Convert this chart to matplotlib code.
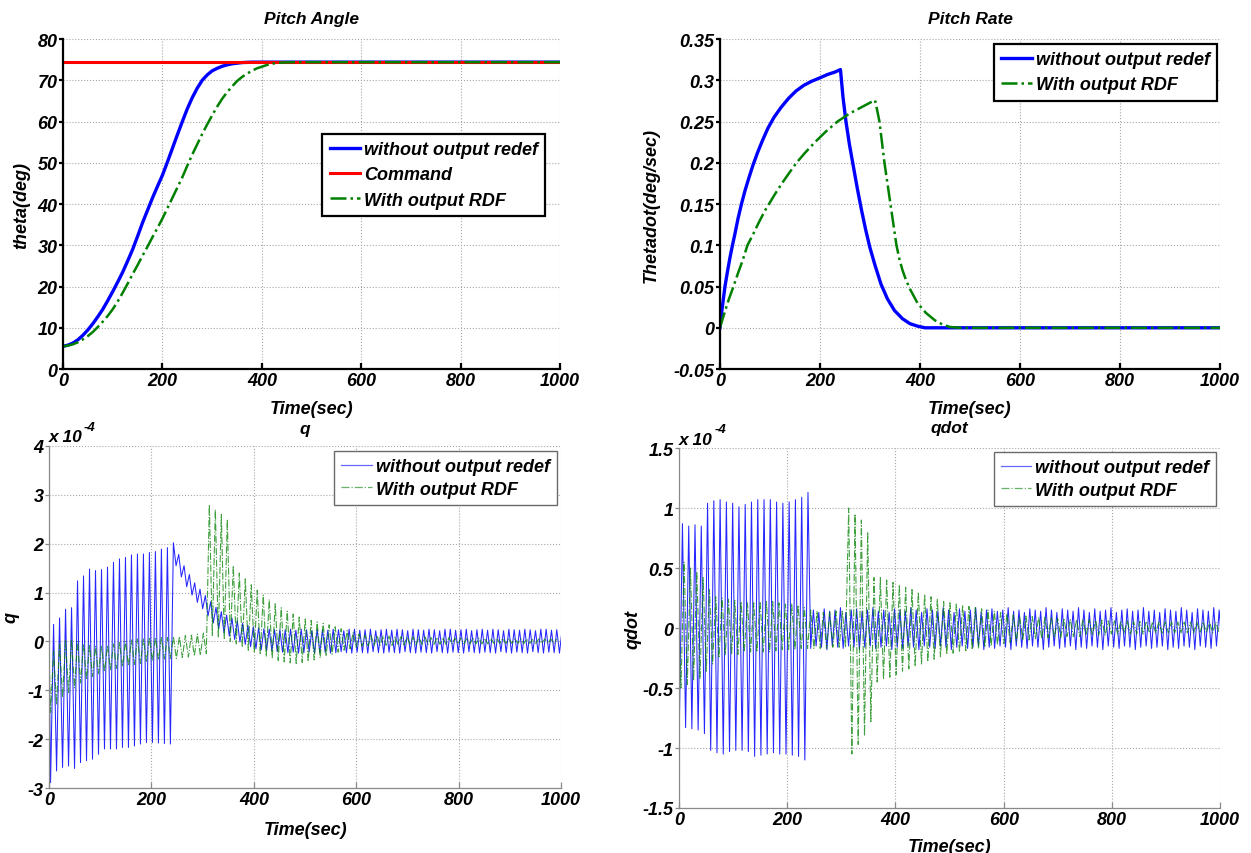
import numpy as np
import matplotlib
matplotlib.use("Agg")
import matplotlib.pyplot as plt
from matplotlib.lines import Line2D

plt.rcParams["font.family"] = ["Liberation Sans", "DejaVu Sans"]
plt.rcParams["font.weight"] = "bold"
plt.rcParams["font.style"] = "italic"
plt.rcParams["axes.unicode_minus"] = False

# ---------------------------------------------------------------------------
# Pitch angle (deg)
# ---------------------------------------------------------------------------
COMMAND = 74.5
T_THETA_BLUE = [0, 10, 20, 30, 40, 50, 60, 70, 80, 90, 100, 110, 120, 130,
                140, 150, 160, 170, 180, 190, 200, 210, 220, 230, 240, 250,
                260, 270, 280, 290, 300, 310, 320, 330, 340, 350, 360, 380,
                1000]
THETA_BLUE = [5.5, 5.8, 6.3, 7.1, 8.2, 9.5, 11, 12.7, 14.5, 16.6, 18.8, 21.1,
              23.5, 26.2, 29, 32.2, 35.5, 38.5, 41.5, 44.3, 47, 50.2, 53.5,
              56.8, 60, 63.1, 65.8, 68.1, 70, 71.3, 72.3, 72.9, 73.4, 73.75,
              74, 74.15, 74.3, 74.4, 74.4]
T_THETA_GREEN = [0, 10, 20, 30, 40, 50, 60, 70, 80, 90, 100, 110, 120, 130,
                 140, 150, 160, 170, 180, 190, 200, 210, 220, 230, 240, 250,
                 260, 270, 280, 290, 300, 310, 320, 330, 340, 350, 360, 370,
                 380, 390, 400, 410, 420, 430, 440, 460, 1000]
THETA_GREEN = [5.5, 5.7, 6, 6.5, 7.2, 8, 9, 10.2, 11.5, 12.9, 14.5, 16.4,
               18.5, 20.7, 23, 25.2, 27.5, 29.7, 32, 34.2, 36.5, 39, 41.5, 44,
               46.5, 49.3, 52, 54.5, 57, 59.3, 61.5, 63.6, 65.5, 67.1, 68.5,
               69.8, 70.8, 71.6, 72.3, 72.9, 73.3, 73.7, 74, 74.2, 74.3, 74.4,
               74.4]

# ---------------------------------------------------------------------------
# Pitch rate (deg/sec)
# ---------------------------------------------------------------------------
T_RATE_BLUE = [0, 3, 6, 10, 15, 20, 25, 30, 36, 43, 50, 58, 66, 75, 85, 96,
               108, 122, 137, 152, 168, 184, 200, 215, 230, 241, 246, 252,
               259, 267, 275, 283, 291, 300, 310, 322, 335, 349, 365, 380,
               395, 410, 1000]
RATE_BLUE = [0, 0.017, 0.031, 0.05, 0.068, 0.085, 0.1, 0.114, 0.132, 0.15,
             0.166, 0.182, 0.197, 0.212, 0.227, 0.242, 0.255, 0.267, 0.278,
             0.287, 0.294, 0.299, 0.303, 0.307, 0.31, 0.313, 0.28, 0.25,
             0.222, 0.195, 0.168, 0.143, 0.12, 0.097, 0.076, 0.053, 0.035,
             0.021, 0.011, 0.005, 0.002, 0, 0]
T_RATE_GREEN = [0, 5, 10, 18, 27, 36, 45, 55, 66, 78, 90, 98, 110, 125, 140,
                153, 170, 190, 212, 235, 260, 285, 310, 313, 319, 329, 335,
                341, 347, 353, 359, 365, 372, 380, 395, 412, 430, 445, 460,
                480, 1000]
RATE_GREEN = [0, 0.01, 0.02, 0.035, 0.05, 0.066, 0.081, 0.1, 0.113, 0.128,
              0.142, 0.15, 0.162, 0.176, 0.189, 0.2, 0.212, 0.225, 0.238,
              0.25, 0.26, 0.268, 0.276, 0.268, 0.25, 0.2, 0.175, 0.15, 0.125,
              0.1, 0.083, 0.07, 0.058, 0.047, 0.03, 0.018, 0.009, 0.004,
              0.001, 0, 0]

# ---------------------------------------------------------------------------
# q (x 1e-4): successive troughs / peaks of the oscillation
# ---------------------------------------------------------------------------
Q_BLUE_A_TROUGHS = [-2.89, -2.65, -2.58, -2.55, -2.6, -2.48, -2.44, -2.41,
                    -2.31, -2.2, -2.2, -2.2, -2.17, -2.17, -2.14, -2.1, -2.07,
                    -2.07, -2.08, -2.09, -2.1]
Q_BLUE_A_PEAKS = [0.35, 0.48, 0.66, 0.69, 1.24, 1.34, 1.48, 1.45, 1.47, 1.52,
                  1.62, 1.69, 1.72, 1.77, 1.79, 1.79, 1.82, 1.84, 1.89, 1.92,
                  2.02]
Q_BLUE_B_TROUGHS = [1.55, 1.32, 1.12, 0.95, 0.80, 0.67, 0.52, 0.38, 0.26,
                    0.18, 0.11, 0.04, -0.01, -0.06, -0.11, -0.15, -0.17,
                    -0.18, -0.20, -0.21, -0.22,
                    -0.23, -0.22, -0.24, -0.23, -0.21, -0.24, -0.23, -0.22,
                    -0.24, -0.23, -0.21, -0.23, -0.24, -0.22, -0.23, -0.24,
                    -0.21, -0.23, -0.24, -0.22, -0.23, -0.24, -0.21, -0.23,
                    -0.24, -0.22, -0.23, -0.24, -0.21, -0.23, -0.24, -0.22,
                    -0.23, -0.24, -0.21, -0.23, -0.24, -0.22, -0.23, -0.24,
                    -0.21, -0.23, -0.24, -0.22, -0.23, -0.24, -0.21, -0.23,
                    -0.24, -0.22, -0.23, -0.24, -0.22]
Q_BLUE_B_PEAKS = [1.78, 1.55, 1.37, 1.20, 1.07, 0.94, 0.81, 0.70, 0.61, 0.54,
                  0.48, 0.42, 0.37, 0.33, 0.30, 0.28, 0.26, 0.25, 0.24, 0.24,
                  0.24,
                  0.25, 0.23, 0.25, 0.24, 0.22, 0.25, 0.24, 0.23, 0.25, 0.24,
                  0.22, 0.25, 0.25, 0.23, 0.24, 0.25, 0.22, 0.24, 0.25, 0.23,
                  0.25, 0.24, 0.22, 0.25, 0.24, 0.23, 0.25, 0.24, 0.22, 0.25,
                  0.25, 0.23, 0.24, 0.25, 0.22, 0.24, 0.25, 0.23, 0.25, 0.24,
                  0.22, 0.25, 0.24, 0.23, 0.25, 0.24, 0.22, 0.25, 0.25, 0.23,
                  0.24, 0.25, 0.24]

Q_GREEN_TROUGHS = [-1.45, -1.3, -1.15, -1.05, -0.95, -0.85, -0.78, -0.72,
                   -0.66, -0.62, -0.58, -0.55, -0.52, -0.5, -0.47, -0.45,
                   -0.42, -0.4, -0.38, -0.36, -0.35, -0.35, -0.33, -0.32,
                   -0.3, -0.28, -0.25,
                   0.12, 0.08, 0.04, 0.0, -0.05, -0.12, -0.18, -0.23, -0.27,
                   -0.31, -0.35, -0.39, -0.42, -0.44, -0.45, -0.43, -0.41,
                   -0.38, -0.34, -0.3, -0.26, -0.22, -0.18, -0.15, -0.12,
                   -0.1, -0.09,
                   -0.09, -0.08, -0.08, -0.08, -0.07, -0.07, -0.07, -0.07,
                   -0.06, -0.06, -0.06, -0.06, -0.06, -0.05, -0.05, -0.05,
                   -0.05, -0.05, -0.05, -0.05, -0.04, -0.04, -0.04, -0.04,
                   -0.04, -0.04, -0.04, -0.04, -0.04, -0.04, -0.04]
Q_GREEN_PEAKS = [-0.2, -0.05, 0.03, 0.05, 0.0, -0.05, -0.08, -0.1, -0.1,
                 -0.08, -0.05, -0.02, 0.0, 0.03, 0.05, 0.06, 0.08, 0.08, 0.08,
                 0.08, 0.1, 0.1, 0.12, 0.13, 0.15, 0.17,
                 2.8, 2.7, 2.6, 2.5, 1.55, 1.4, 1.28, 1.16, 1.05, 0.95, 0.86,
                 0.77, 0.69, 0.62, 0.56, 0.5, 0.46, 0.43, 0.4, 0.37, 0.34,
                 0.3, 0.26, 0.22, 0.18, 0.15, 0.13,
                 0.12, 0.12, 0.11, 0.11, 0.10, 0.10, 0.10, 0.09, 0.09, 0.09,
                 0.08, 0.08, 0.08, 0.08, 0.07, 0.07, 0.07, 0.07, 0.07, 0.06,
                 0.06, 0.06, 0.06, 0.06, 0.06, 0.05, 0.05, 0.05, 0.05, 0.05,
                 0.05, 0.05, 0.05]

# ---------------------------------------------------------------------------
# qdot (x 1e-4)
# ---------------------------------------------------------------------------
QD_BLUE_A_TROUGHS = [-0.82, -0.83, -0.84, -0.85, -0.88, -1.02, -1.04, -1.05,
                     -1.03, -1.02, -1.02, -1.03, -1.07, -1.06, -1.05, -1.04,
                     -1.05, -1.05, -1.06, -1.07, -1.1]
QD_BLUE_A_PEAKS = [0.87, 0.85, 0.86, 0.85, 1.04, 1.06, 1.07, 1.05, 1.04, 1.01,
                   1.03, 1.05, 1.07, 1.07, 1.07, 1.05, 1.04, 1.05, 1.07, 1.09,
                   1.13]
QD_BLUE_B_TROUGHS = [-0.17, -0.15, -0.16, -0.18, -0.15, -0.16, -0.17, -0.15,
                     -0.16, -0.18, -0.16, -0.15, -0.17, -0.16, -0.15, -0.18,
                     -0.16, -0.17, -0.15, -0.16, -0.18, -0.15, -0.16, -0.17,
                     -0.15, -0.16, -0.18, -0.16, -0.15, -0.17, -0.16, -0.15,
                     -0.18, -0.16, -0.17, -0.15, -0.16, -0.18, -0.15, -0.16,
                     -0.17, -0.15, -0.16, -0.18, -0.16, -0.15, -0.17, -0.16,
                     -0.15, -0.18, -0.16, -0.17, -0.15, -0.16, -0.18, -0.15,
                     -0.16, -0.17, -0.15, -0.16, -0.18, -0.16, -0.15, -0.17,
                     -0.16, -0.15, -0.18, -0.16, -0.17, -0.15, -0.16, -0.18,
                     -0.15, -0.16, -0.17, -0.15, -0.16, -0.18]
QD_BLUE_B_PEAKS = [0.15, 0.13, 0.16, 0.14, 0.15, 0.17, 0.13, 0.15, 0.16, 0.14,
                   0.15, 0.17, 0.14, 0.15, 0.13, 0.16, 0.15, 0.14, 0.17, 0.15,
                   0.13, 0.16, 0.15, 0.14, 0.17, 0.15, 0.13, 0.16, 0.14, 0.15,
                   0.17, 0.13, 0.15, 0.16, 0.14, 0.15, 0.17, 0.14, 0.15, 0.13,
                   0.16, 0.15, 0.14, 0.17, 0.15, 0.13, 0.16, 0.15, 0.14, 0.17,
                   0.15, 0.13, 0.16, 0.14, 0.15, 0.17, 0.13, 0.15, 0.16, 0.14,
                   0.15, 0.17, 0.14, 0.15, 0.13, 0.16, 0.15, 0.14, 0.17, 0.15,
                   0.13, 0.16, 0.15, 0.14, 0.17, 0.15, 0.16, 0.15]

QD_GREEN_TROUGHS = [-0.5, -0.47, -0.44, -0.42, -0.36, -0.3, -0.25, -0.22,
                    -0.22, -0.22, -0.2, -0.2, -0.2, -0.2, -0.2, -0.19, -0.18,
                    -0.18, -0.18, -0.17, -0.17, -0.17, -0.17, -0.17, -0.16,
                    -0.16, -0.16,
                    -1.05, -0.97, -0.9, -0.78, -0.45, -0.43, -0.41, -0.39,
                    -0.36, -0.34, -0.32, -0.3, -0.28, -0.26, -0.24, -0.22,
                    -0.21, -0.2, -0.19, -0.18, -0.17, -0.16, -0.15, -0.14,
                    -0.13, -0.12, -0.11, -0.1,
                    -0.1, -0.09, -0.09, -0.08, -0.08, -0.08, -0.07, -0.07,
                    -0.07, -0.06, -0.06, -0.06, -0.06, -0.05, -0.05, -0.05,
                    -0.05, -0.05, -0.05, -0.04, -0.04, -0.04, -0.04, -0.04,
                    -0.04, -0.04, -0.04, -0.04, -0.04, -0.04, -0.04]
QD_GREEN_PEAKS = [0.55, 0.5, 0.47, 0.42, 0.32, 0.26, 0.25, 0.24, 0.23, 0.22,
                  0.21, 0.21, 0.22, 0.22, 0.22, 0.21, 0.2, 0.2, 0.19, 0.17,
                  0.15, 0.14, 0.13, 0.13, 0.14, 0.14,
                  1.0, 0.95, 0.9, 0.8, 0.42, 0.42, 0.4, 0.38, 0.36, 0.34,
                  0.32, 0.3, 0.28, 0.26, 0.24, 0.22, 0.21, 0.2, 0.19, 0.18,
                  0.17, 0.16, 0.15, 0.14, 0.13, 0.12, 0.11, 0.1,
                  0.1, 0.095, 0.09, 0.09, 0.085, 0.08, 0.08, 0.075, 0.07,
                  0.07, 0.07, 0.065, 0.065, 0.06, 0.06, 0.06, 0.06, 0.055,
                  0.055, 0.055, 0.05, 0.05, 0.05, 0.05, 0.05, 0.05, 0.05,
                  0.05, 0.05, 0.05, 0.05]

BLUE = "#0000ff"
RED = "#ff0000"
GREEN = "#008000"
LBL_BLUE = "without output redef"
LBL_GREEN = "With output RDF"
FS = 13


def interleave(first, second):
    out = []
    for a, b in zip(first, second):
        out += [a, b]
    if len(first) > len(second):
        out.append(first[len(second)])
    return out


def oscillation(t0, half, first, second):
    v = interleave(first, second)
    return list(t0 + half * np.arange(len(v))), v


def style(ax, heavy):
    col = "black" if heavy else "#8a8a8a"
    lw = 1.6 if heavy else 0.9
    for s in ("top", "right"):
        ax.spines[s].set_visible(False)
    for s in ("left", "bottom"):
        ax.spines[s].set_color(col)
        ax.spines[s].set_linewidth(lw)
    ax.grid(True, linestyle=":", color="#a8a8a8", linewidth=0.8)
    ax.set_axisbelow(True)
    ax.tick_params(axis="x", direction="in", length=4, width=lw, color=col,
                   labelsize=FS, pad=2)
    ax.tick_params(axis="y", direction="out", length=3, width=lw, color=col,
                   labelsize=FS, pad=1)
    ax.set_xlim(0, 1000)
    ax.set_xticks(range(0, 1001, 200))
    ax.set_xlabel("Time(sec)", fontsize=FS, fontweight="bold")
    ax.xaxis.set_label_coords(0.5, -0.095)


def title(ax, txt, y):
    ax.text(0.5, y, txt, transform=ax.transAxes, ha="center", va="center",
            fontsize=12.5, fontweight="bold")


def offset_label(ax, y, xs):
    ax.text(0.0, y, "x 10", transform=ax.transAxes, ha="left",
            va="center", fontsize=12.5, fontweight="bold")
    ax.text(xs, y + 0.028, "-4", transform=ax.transAxes, ha="left",
            va="center", fontsize=9.5, fontweight="bold")


def add_legend(ax, anchor, handles=None, labels=None, heavy=True):
    kw = dict(loc="upper right", bbox_to_anchor=anchor, borderaxespad=0,
              fontsize=13, fancybox=False,
              framealpha=1, handlelength=1.7, handletextpad=0.2,
              borderpad=0.4, labelspacing=0.45 if heavy else 0.3,
              edgecolor="black" if heavy else "#6a6a6a")
    if handles is None:
        leg = ax.legend(**kw)
    else:
        leg = ax.legend(handles, labels, **kw)
    leg.get_frame().set_linewidth(1.6 if heavy else 1.0)


fig = plt.figure(figsize=(12.51, 8.54), dpi=100)
ax1 = fig.add_axes([0.0504, 0.5667, 0.3973, 0.3864])
ax2 = fig.add_axes([0.5755, 0.5667, 0.3997, 0.3864])
ax3 = fig.add_axes([0.0392, 0.0761, 0.4093, 0.4005])
ax4 = fig.add_axes([0.5428, 0.0527, 0.4325, 0.4215])

# --- Pitch Angle
style(ax1, True)
ax1.plot(T_THETA_BLUE, THETA_BLUE, color=BLUE, lw=2.4, label=LBL_BLUE)
ax1.axhline(COMMAND, color=RED, lw=2.2, label="Command")
ax1.plot(T_THETA_GREEN, THETA_GREEN, color=GREEN, lw=1.8, ls="-.",
         label=LBL_GREEN)
ax1.set_ylim(0, 80)
ax1.set_yticks(range(0, 81, 10))
ax1.set_ylabel("theta(deg)", fontsize=FS, fontweight="bold")
ax1.yaxis.set_label_coords(-0.066, 0.5)
title(ax1, "Pitch Angle", 1.061)
add_legend(ax1, (0.97, 0.712))

# --- Pitch Rate
style(ax2, True)
ax2.plot(T_RATE_BLUE, RATE_BLUE, color=BLUE, lw=2.4, label=LBL_BLUE)
ax2.plot(T_RATE_GREEN, RATE_GREEN, color=GREEN, lw=1.8, ls="-.",
         label=LBL_GREEN)
ax2.set_ylim(-0.05, 0.35)
ax2.set_yticks([-0.05, 0, 0.05, 0.1, 0.15, 0.2, 0.25, 0.3, 0.35])
ax2.set_yticklabels(["-0.05", "0", "0.05", "0.1", "0.15", "0.2", "0.25",
                     "0.3", "0.35"])
ax2.set_ylabel("Thetadot(deg/sec)", fontsize=FS, fontweight="bold")
ax2.yaxis.set_label_coords(-0.12, 0.5)
title(ax2, "Pitch Rate", 1.061)
add_legend(ax2, (0.994, 0.985))

# --- q
style(ax3, False)
ta, va = oscillation(3.0, 5.85, Q_BLUE_A_TROUGHS, Q_BLUE_A_PEAKS)
tb, vb = oscillation(248.05, 5.2, Q_BLUE_B_TROUGHS, Q_BLUE_B_PEAKS)
ax3.plot([0] + ta + tb, [-0.2] + va + vb, color=BLUE, lw=0.75, alpha=0.85)
tg, vg = oscillation(3.0, 5.85, Q_GREEN_TROUGHS, Q_GREEN_PEAKS)
ax3.plot([0] + tg, [-0.2] + vg, color=GREEN, lw=0.8, ls="-.", alpha=0.75)
ax3.set_ylim(-3, 4)
ax3.set_yticks(range(-3, 5))
ax3.set_ylabel("q", fontsize=FS, fontweight="bold")
ax3.yaxis.set_label_coords(-0.058, 0.5)
title(ax3, "q", 1.05)
offset_label(ax3, 1.028, 0.068)

# --- qdot
style(ax4, False)
ta, va = oscillation(0.5, 5.8, QD_BLUE_A_TROUGHS, QD_BLUE_A_PEAKS)
tb, vb = oscillation(243.3, 5.0, QD_BLUE_B_TROUGHS, QD_BLUE_B_PEAKS)
ax4.plot([0] + ta + tb, [0] + va + vb, color=BLUE, lw=0.75, alpha=0.85)
tg, vg = oscillation(3.5, 5.85, QD_GREEN_TROUGHS, QD_GREEN_PEAKS)
ax4.plot([0] + tg, [0] + vg, color=GREEN, lw=0.8, ls="-.", alpha=0.75)
ax4.set_ylim(-1.5, 1.5)
ax4.set_yticks([-1.5, -1, -0.5, 0, 0.5, 1, 1.5])
ax4.set_yticklabels(["-1.5", "-1", "-0.5", "0", "0.5", "1", "1.5"])
ax4.set_ylabel("qdot", fontsize=FS, fontweight="bold")
ax4.yaxis.set_label_coords(-0.07, 0.5)
ax4.xaxis.set_label_coords(0.5, -0.082)
title(ax4, "qdot", 1.058)
offset_label(ax4, 1.025, 0.065)

handles = [Line2D([], [], color=BLUE, lw=0.9, alpha=0.6),
           Line2D([], [], color=GREEN, lw=0.9, ls="-.", alpha=0.6)]
add_legend(ax3, (0.992, 0.985), handles, [LBL_BLUE, LBL_GREEN], heavy=False)
add_legend(ax4, (0.993, 0.989), handles, [LBL_BLUE, LBL_GREEN], heavy=False)

fig.savefig("out.png", dpi=100, facecolor="white")
